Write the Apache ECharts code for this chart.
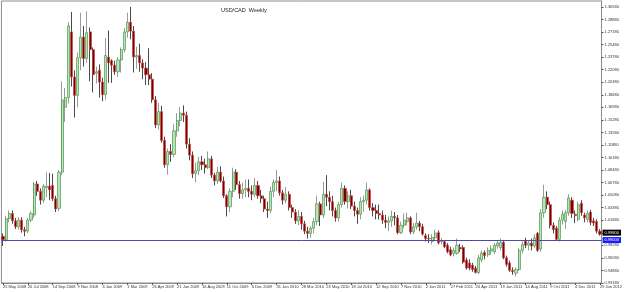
<!DOCTYPE html>
<html><head><meta charset="utf-8">
<script src="https://cdn.jsdelivr.net/npm/echarts@6/dist/echarts.min.js"></script>
<style>html,body{margin:0;padding:0;background:#fff}#c{width:625px;height:292px}</style>
</head><body><div id="c"></div>
<script>
const title = 'USD/CAD  Weekly';
const tickLabels = ['25 May 2008','20 Jul 2008','14 Sep 2008','9 Nov 2008','4 Jan 2009','1 Mar 2009','26 Apr 2009','21 Jun 2009','16 Aug 2009','11 Oct 2009','6 Dec 2009','31 Jan 2010','28 Mar 2010','23 May 2010','18 Jul 2010','12 Sep 2010','7 Nov 2010','2 Jan 2011','27 Feb 2011','24 Apr 2011','19 Jun 2011','14 Aug 2011','9 Oct 2011','4 Dec 2011','29 Jan 2012'];
const hLine = 0.9900;
const opens = [0.9950,0.9905,1.0190,1.0260,1.0160,1.0080,1.0170,1.0040,1.0020,1.0170,
1.0240,1.0660,1.0560,1.0440,1.0610,1.0630,1.0640,1.0460,1.0330,1.0820,
1.1700,1.1830,1.2720,1.2110,1.1860,1.2370,1.2650,1.2360,1.2720,1.2480,
1.2160,1.2200,1.2040,1.1870,1.2380,1.2330,1.2270,1.2180,1.2340,1.2480,
1.2720,1.2850,1.2730,1.2380,1.2400,1.2300,1.2230,1.2140,1.2080,1.1800,
1.1460,1.1640,1.1250,1.0920,1.1100,1.1060,1.1380,1.1520,1.1620,1.1590,
1.1200,1.1050,1.0800,1.0840,1.0960,1.0920,1.0880,1.1000,1.0780,1.0700,
1.0820,1.0700,1.0500,1.0350,1.0560,1.0820,1.0650,1.0530,1.0580,1.0600,
1.0560,1.0520,1.0640,1.0500,1.0460,1.0320,1.0300,1.0560,1.0680,1.0700,
1.0540,1.0440,1.0520,1.0340,1.0280,1.0160,1.0220,1.0120,1.0020,0.9990,
1.0060,1.0150,1.0390,1.0240,1.0520,1.0480,1.0420,1.0300,1.0200,1.0380,
1.0600,1.0420,1.0500,1.0360,1.0300,1.0250,1.0420,1.0440,1.0580,1.0340,
1.0300,1.0260,1.0240,1.0170,1.0140,1.0160,1.0220,1.0200,1.0000,1.0100,
1.0150,1.0200,1.0010,1.0080,1.0130,1.0080,0.9960,0.9920,0.9880,0.9930,
1.0000,0.9880,0.9880,0.9830,0.9770,0.9720,0.9720,0.9800,0.9800,0.9630,
0.9590,0.9560,0.9520,0.9460,0.9630,0.9730,0.9700,0.9750,0.9740,0.9820,
0.9800,0.9870,0.9660,0.9590,0.9490,0.9450,0.9500,0.9760,0.9890,0.9830,
0.9860,0.9820,0.9990,0.9780,1.0270,1.0480,1.0380,1.0100,1.0060,0.9910,
1.0170,1.0150,1.0270,1.0440,1.0250,1.0180,1.0400,1.0240,1.0180,1.0280,
1.0160,1.0150,1.0020];
const closes = [0.9905,1.0190,1.0260,1.0160,1.0080,1.0170,1.0040,1.0020,1.0170,1.0260,
1.0660,1.0560,1.0440,1.0630,1.0630,1.0580,1.0460,1.0320,1.0820,1.1800,
1.1830,1.2800,1.2110,1.1860,1.2370,1.2650,1.2360,1.2710,1.2480,1.2140,
1.2180,1.2040,1.1870,1.2400,1.2300,1.2270,1.2180,1.2340,1.2480,1.2720,
1.2850,1.2730,1.2380,1.2400,1.2300,1.2230,1.2140,1.2080,1.1800,1.1460,
1.1640,1.1250,1.0920,1.1100,1.1060,1.1380,1.1520,1.1620,1.1590,1.1200,
1.1050,1.0800,1.0840,1.0960,1.0920,1.0880,1.1000,1.0780,1.0700,1.0820,
1.0700,1.0500,1.0350,1.0560,1.0820,1.0650,1.0530,1.0580,1.0600,1.0560,
1.0520,1.0640,1.0500,1.0460,1.0320,1.0300,1.0560,1.0680,1.0700,1.0540,
1.0440,1.0520,1.0340,1.0280,1.0160,1.0220,1.0120,1.0020,0.9990,1.0060,
1.0150,1.0390,1.0240,1.0520,1.0480,1.0420,1.0300,1.0200,1.0380,1.0600,
1.0420,1.0500,1.0360,1.0300,1.0250,1.0420,1.0440,1.0580,1.0340,1.0300,
1.0260,1.0240,1.0170,1.0140,1.0160,1.0220,1.0200,1.0000,1.0100,1.0170,
1.0200,1.0010,1.0080,1.0130,1.0080,0.9980,0.9920,0.9915,0.9935,0.9995,
0.9860,0.9890,0.9810,0.9740,0.9700,0.9760,0.9830,0.9780,0.9600,0.9520,
0.9520,0.9500,0.9460,0.9660,0.9725,0.9690,0.9760,0.9780,0.9830,0.9860,
0.9870,0.9660,0.9570,0.9490,0.9470,0.9500,0.9760,0.9840,0.9830,0.9860,
0.9820,0.9930,0.9760,1.0270,1.0480,1.0380,1.0100,1.0040,0.9910,1.0170,
1.0250,1.0270,1.0470,1.0260,1.0230,1.0380,1.0270,1.0200,1.0260,1.0140,
1.0130,1.0020,0.9980];
const lows = [0.9820,0.9880,1.0140,1.0120,1.0050,1.0040,1.0000,0.9950,0.9990,1.0140,
1.0200,1.0500,1.0380,1.0400,1.0480,1.0440,1.0430,1.0280,1.0290,1.0780,
1.1500,1.1750,1.1980,1.1560,1.1700,1.2200,1.2250,1.2300,1.2050,1.1900,
1.2020,1.1830,1.1780,1.1800,1.2030,1.2030,1.2140,1.2110,1.2170,1.2440,
1.2640,1.2620,1.2170,1.2220,1.2180,1.2080,1.2000,1.2000,1.1760,1.1420,
1.1400,1.1220,1.0880,1.0785,1.0960,1.1020,1.1300,1.1440,1.1500,1.1140,
1.0980,1.0740,1.0680,1.0780,1.0850,1.0800,1.0860,1.0740,1.0640,1.0660,
1.0680,1.0470,1.0220,1.0280,1.0480,1.0580,1.0460,1.0460,1.0480,1.0480,
1.0440,1.0480,1.0460,1.0400,1.0280,1.0200,1.0260,1.0480,1.0560,1.0500,
1.0380,1.0400,1.0300,1.0200,1.0120,1.0100,1.0040,0.9980,0.9920,0.9930,
0.9990,1.0100,1.0090,1.0200,1.0360,1.0300,1.0220,1.0150,1.0150,1.0340,
1.0380,1.0330,1.0320,1.0220,1.0120,1.0180,1.0280,1.0380,1.0300,1.0220,
1.0180,1.0180,1.0120,1.0060,1.0020,1.0080,1.0100,0.9980,0.9980,1.0060,
1.0100,0.9980,0.9980,1.0040,1.0020,0.9960,0.9880,0.9860,0.9840,0.9900,
0.9840,0.9840,0.9790,0.9720,0.9680,0.9680,0.9700,0.9740,0.9580,0.9500,
0.9490,0.9470,0.9448,0.9440,0.9600,0.9640,0.9670,0.9700,0.9710,0.9780,
0.9760,0.9640,0.9540,0.9470,0.9430,0.9406,0.9480,0.9720,0.9790,0.9760,
0.9760,0.9790,0.9740,0.9740,1.0200,1.0320,1.0060,0.9990,0.9890,0.9880,
1.0110,1.0050,1.0230,1.0200,1.0130,1.0150,1.0230,1.0140,1.0140,1.0100,
1.0090,0.9990,0.9960];
const highs = [0.9990,1.0230,1.0300,1.0300,1.0200,1.0210,1.0210,1.0080,1.0200,1.0290,
1.0690,1.0700,1.0600,1.0660,1.0820,1.0810,1.0800,1.0500,1.0850,1.2050,
1.1960,1.2850,1.2990,1.2200,1.2440,1.2980,1.2800,1.3000,1.2780,1.2510,
1.2250,1.2280,1.2100,1.2640,1.2740,1.2350,1.2330,1.2380,1.2510,1.2770,
1.2980,1.3058,1.2800,1.2520,1.2560,1.2350,1.2310,1.2500,1.2160,1.1850,
1.1760,1.1720,1.1300,1.1140,1.1200,1.1470,1.1620,1.1700,1.1725,1.1640,
1.1280,1.1100,1.0950,1.1030,1.1040,1.1000,1.1100,1.1040,1.0810,1.0890,
1.0900,1.0760,1.0520,1.0600,1.0880,1.0860,1.0700,1.0680,1.0720,1.0720,
1.0640,1.0740,1.0700,1.0580,1.0500,1.0420,1.0620,1.0720,1.0850,1.0760,
1.0580,1.0620,1.0560,1.0380,1.0320,1.0310,1.0280,1.0160,1.0080,1.0090,
1.0200,1.0500,1.0420,1.0690,1.0780,1.0560,1.0500,1.0340,1.0420,1.0680,
1.0640,1.0560,1.0580,1.0420,1.0340,1.0480,1.0500,1.0680,1.0600,1.0400,
1.0380,1.0380,1.0300,1.0240,1.0220,1.0300,1.0280,1.0240,1.0150,1.0260,
1.0270,1.0220,1.0130,1.0270,1.0160,1.0120,0.9990,0.9980,0.9980,1.0040,
1.0030,0.9930,0.9900,0.9860,0.9810,0.9800,0.9920,0.9850,0.9830,0.9660,
0.9640,0.9590,0.9550,0.9700,0.9760,0.9760,0.9800,0.9830,0.9860,0.9900,
0.9920,0.9900,0.9690,0.9620,0.9530,0.9530,0.9790,0.9880,0.9930,0.9900,
0.9920,0.9980,1.0010,1.0320,1.0650,1.0560,1.0420,1.0140,1.0090,1.0210,
1.0300,1.0310,1.0520,1.0480,1.0300,1.0420,1.0440,1.0270,1.0300,1.0310,
1.0200,1.0180,1.0050];

const months = ['Jan','Feb','Mar','Apr','May','Jun','Jul','Aug','Sep','Oct','Nov','Dec'];
const categories = opens.map((_, i) => {
  const d = new Date(Date.UTC(2008, 4, 25 + 7 * i));
  return d.getUTCDate() + ' ' + months[d.getUTCMonth()] + ' ' + d.getUTCFullYear();
});
const ohlc = opens.map((o, i) => [o, closes[i], lows[i], highs[i]]);
const bodies = opens.map((o, i) => [o, closes[i], Math.min(o, closes[i]), Math.max(o, closes[i])]);
const lastClose = closes[closes.length - 1];
const F = 'Liberation Sans, Arial, sans-serif';

const chart = echarts.init(document.getElementById('c'), null, {renderer: 'canvas'});
chart.setOption({
  animation: false,
  backgroundColor: '#ffffff',
  title: {text: title, left: 216, top: 2, textStyle: {fontSize: 5.5, fontWeight: 'normal', color: '#222', fontFamily: F}},
  grid: {left: 1, right: 20, top: 1, bottom: 9, show: true, borderColor: '#8c8c8c', borderWidth: 1, backgroundColor: 'transparent'},
  xAxis: {
    type: 'category', data: categories, boundaryGap: true,
    axisLine: {lineStyle: {color: '#8c8c8c', width: 1}},
    axisTick: {show: true, interval: (i) => i % 8 === 0, length: 2, alignWithLabel: true, lineStyle: {color: '#555'}},
    axisLabel: {interval: (i) => i % 8 === 0, formatter: (v, i) => tickLabels[Math.round(i / 8)] || v, align: 'left', fontSize: 4, margin: 2, color: '#333', fontFamily: F},
    splitLine: {show: false}
  },
  yAxis: {
    type: 'value', position: 'right', scale: true, min: 0.9318, max: 1.3139, interval: 0.017,
    axisLine: {show: true, lineStyle: {color: '#8c8c8c', width: 1}},
    axisTick: {show: true, length: 2, lineStyle: {color: '#555'}},
    axisLabel: {fontSize: 4, margin: 3, color: '#333', fontFamily: F, showMaxLabel: false, formatter: (v) => v.toFixed(5)},
    splitLine: {show: false}
  },
  series: [
    {type: 'candlestick', name: 'wicks', data: ohlc, barWidth: 1, silent: true,
     itemStyle: {color: '#9a9a9a', color0: '#4a4a4a', borderColor: '#9a9a9a', borderColor0: '#4a4a4a', borderWidth: 1}},
    {type: 'candlestick', name: 'bodies', data: bodies, barWidth: 2.6, silent: true,
     itemStyle: {color: '#b8e2b8', color0: '#7a0000', borderColor: '#4c9a4c', borderColor0: '#c84a4a', borderWidth: 0.7},
     markLine: {
       symbol: ['none', 'none'], silent: true, animation: false,
       data: [
         {yAxis: hLine, lineStyle: {color: '#4b4bab', width: 1, type: 'solid'},
          label: {show: true, position: 'end', formatter: hLine.toFixed(5), backgroundColor: '#1e1eff', color: '#fff', fontSize: 4, padding: [1, 2], distance: 1, fontFamily: F}},
         {yAxis: lastClose, lineStyle: {color: 'rgba(0,0,0,0)', width: 0},
          label: {show: true, position: 'end', formatter: lastClose.toFixed(5), backgroundColor: '#000', color: '#fff', fontSize: 4, padding: [1, 2], distance: 1, fontFamily: F}}
       ]
     }}
  ]
});
</script></body></html>
